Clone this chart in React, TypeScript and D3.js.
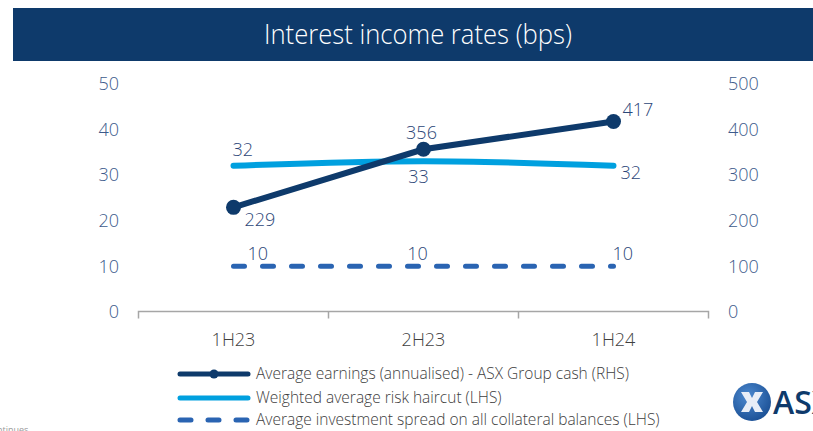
import React, { useEffect, useRef } from "react"
import * as d3 from "d3"

const periods = ["1H23", "2H23", "1H24"]
const earnings = [229, 356, 417] // RHS
const haircut = [32, 33, 32] // LHS
const spread = [10, 10, 10] // LHS
const leftTicks = [0, 10, 20, 30, 40, 50]
const rightTicks = [0, 100, 200, 300, 400, 500]
const legendLabels = [
    "Average earnings (annualised) - ASX Group cash (RHS)",
    "Weighted average risk haircut (LHS)",
    "Average investment spread on all collateral balances (LHS)",
]

const WIDTH = 813
const HEIGHT = 431
const FONT = "'Open Sans', 'Segoe UI', sans-serif"
const NAVY = "#0e3a6b"
const LIGHT = "#00a0df"
const MID = "#2a64b2"
const TICK = "#3d5b8c"
const LABEL = "#2c4677"

const InterestIncomeChart: React.FC = () => {
    const svgRef = useRef<SVGSVGElement | null>(null)

    useEffect(() => {
        if (!svgRef.current) return
        const svg = d3.select(svgRef.current)
        svg.selectAll("*").remove()

        // 見出しバナー
        svg.append("rect")
            .attr("x", 13).attr("y", 8)
            .attr("width", WIDTH - 13).attr("height", 53)
            .attr("fill", NAVY)
        svg.append("text")
            .attr("x", 264).attr("y", 44)
            .attr("textLength", 308).attr("lengthAdjust", "spacingAndGlyphs")
            .attr("fill", "#fff")
            .style("font-family", FONT)
            .style("font-weight", 300)
            .style("font-size", "28px")
            .text("Interest income rates (bps)")

        const x = d3.scaleBand<string>().domain(periods).range([138.5, 708.5])
        const cx = (d: string) => x(d)! + x.bandwidth() / 2
        const yL = d3.scaleLinear().domain([0, 50]).range([312, 83.5])
        const yR = d3.scaleLinear().domain([0, 500]).range([312, 83.5])

        // 左軸・右軸の目盛り
        svg.append("g").selectAll("text").data(leftTicks).enter().append("text")
            .attr("x", 119).attr("y", d => yL(d)).attr("dy", "0.35em")
            .attr("text-anchor", "end").attr("fill", TICK)
            .style("font-family", FONT).style("font-weight", 300).style("font-size", "18px")
            .text(d => d)
        svg.append("g").selectAll("text").data(rightTicks).enter().append("text")
            .attr("x", 728).attr("y", d => yR(d)).attr("dy", "0.35em")
            .attr("text-anchor", "start").attr("fill", TICK)
            .style("font-family", FONT).style("font-weight", 300).style("font-size", "18px")
            .text(d => d)

        // 横軸
        const xAxis = d3.axisBottom(x).tickSize(0).tickPadding(22)
        const ax = svg.append("g").attr("transform", "translate(0,311.5)").call(xAxis)
        ax.select(".domain").attr("stroke", "#a6a6a6").attr("stroke-width", 1.5)
            .attr("d", "M138.5,7V0H708.5V7")
        ax.selectAll("text").attr("fill", "#404040")
            .style("font-family", FONT).style("font-weight", 300).style("font-size", "18px")
        svg.append("g").selectAll("line").data(periods.slice(1)).enter().append("line")
            .attr("x1", d => x(d)!).attr("x2", d => x(d)!)
            .attr("y1", 311.5).attr("y2", 318.5)
            .attr("stroke", "#a6a6a6").attr("stroke-width", 1.5)

        const idx = d3.range(periods.length)

        // 投資スプレッド（破線）
        const lineSpread = d3.line<number>().x(i => cx(periods[i])).y(i => yL(spread[i]))
        svg.append("path").attr("d", lineSpread(idx)!)
            .attr("fill", "none").attr("stroke", MID).attr("stroke-width", 5)
            .attr("stroke-linecap", "round").attr("stroke-dasharray", "11 18")

        // リスクヘアカット
        const lineHaircut = d3.line<number>().x(i => cx(periods[i])).y(i => yL(haircut[i]))
            .curve(d3.curveMonotoneX)
        svg.append("path").attr("d", lineHaircut(idx)!)
            .attr("fill", "none").attr("stroke", LIGHT).attr("stroke-width", 6)
            .attr("stroke-linecap", "round")

        // 平均収益（右軸）
        const lineEarn = d3.line<number>().x(i => cx(periods[i])).y(i => yR(earnings[i]))
        svg.append("path").attr("d", lineEarn(idx)!)
            .attr("fill", "none").attr("stroke", NAVY).attr("stroke-width", 6)
            .attr("stroke-linecap", "round")
        svg.append("g").selectAll("circle").data(idx).enter().append("circle")
            .attr("cx", i => cx(periods[i])).attr("cy", i => yR(earnings[i]))
            .attr("r", 7.5).attr("fill", NAVY)

        // データラベル
        const label = (px: number, py: number, t: number, anchor: string) =>
            svg.append("text").attr("x", px).attr("y", py).attr("text-anchor", anchor)
                .attr("fill", LABEL).style("font-family", FONT).style("font-weight", 300)
                .style("font-size", "18px").text(t)
        const earnOff = [[11, 19, "start"], [-2, -10, "middle"], [9, -5, "start"]] as const
        const hairOff = [[-1, -10, "start"], [-5, 22, "middle"], [7, 13, "start"]] as const
        const sprOff = [[14, -6, "start"], [-6, -6, "middle"], [-1, -6, "start"]] as const
        idx.forEach(i => {
            const px = cx(periods[i])
            label(px + earnOff[i][0], yR(earnings[i]) + earnOff[i][1], earnings[i], earnOff[i][2])
            label(px + hairOff[i][0], yL(haircut[i]) + hairOff[i][1], haircut[i], hairOff[i][2])
            label(px + sprOff[i][0], yL(spread[i]) + sprOff[i][1], spread[i], sprOff[i][2])
        })

        // 凡例
        const legend = svg.append("g")
        const ly = [374, 398, 420]
        legend.append("line").attr("x1", 180).attr("x2", 248).attr("y1", ly[0]).attr("y2", ly[0])
            .attr("stroke", NAVY).attr("stroke-width", 5).attr("stroke-linecap", "round")
        legend.append("circle").attr("cx", 214).attr("cy", ly[0]).attr("r", 4.5).attr("fill", NAVY)
        legend.append("line").attr("x1", 180).attr("x2", 248).attr("y1", ly[1]).attr("y2", ly[1])
            .attr("stroke", LIGHT).attr("stroke-width", 5).attr("stroke-linecap", "round")
        legend.append("line").attr("x1", 180).attr("x2", 248).attr("y1", ly[2]).attr("y2", ly[2])
            .attr("stroke", MID).attr("stroke-width", 5).attr("stroke-linecap", "round")
            .attr("stroke-dasharray", "11 17")
        legend.selectAll("text").data(legendLabels).enter().append("text")
            .attr("x", 256).attr("y", (_, i) => ly[i]).attr("dy", "0.35em")
            .attr("fill", "#404040").style("font-family", FONT).style("font-weight", 300)
            .style("font-size", "15.5px").text(d => d)

        // ロゴ
        const grad = svg.append("defs").append("radialGradient").attr("id", "logoGrad")
            .attr("cx", "40%").attr("cy", "35%").attr("r", "70%")
        grad.append("stop").attr("offset", "0%").attr("stop-color", "#4d8ad0")
        grad.append("stop").attr("offset", "100%").attr("stop-color", "#1a4f94")
        svg.append("circle").attr("cx", 752).attr("cy", 402).attr("r", 19).attr("fill", "url(#logoGrad)")
        svg.append("path")
            .attr("d", "M741,392H749L752,398L755,392H763L757,402L763,412H755L752,406L749,412H741L747,402Z")
            .attr("fill", "#e8eef7")
        svg.append("text").attr("x", 773).attr("y", 414).attr("fill", NAVY)
            .style("font-family", FONT).style("font-weight", 600).style("font-size", "32px")
            .text("ASX")

        svg.append("text").attr("x", -3).attr("y", 433).attr("fill", "#999")
            .style("font-family", FONT).style("font-size", "9px").text("ntinues")
    }, [])

    return (
        <svg
            ref={svgRef}
            width={WIDTH}
            height={HEIGHT}
            style={{ position: "absolute", left: 0, top: 0, background: "#fff" }}
        />
    )
}

export default InterestIncomeChart
